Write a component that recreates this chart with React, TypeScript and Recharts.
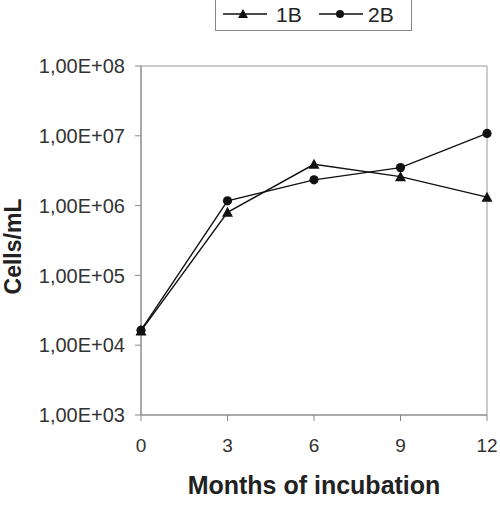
import React from 'react';
import { LineChart, Line, XAxis, YAxis, Legend, Label, ReferenceArea } from 'recharts';

// Months of incubation and cell counts (cells/mL) for both samples
const months = [0, 3, 6, 9, 12];
const series1B = [1.6e4, 8.0e5, 3.9e6, 2.6e6, 1.32e6];
const series2B = [1.64e4, 1.17e6, 2.34e6, 3.5e6, 1.08e7];
const yTicks = [1e3, 1e4, 1e5, 1e6, 1e7, 1e8];
const xTicks = [0, 3, 6, 9, 12];

const data = months.map((m, i) => ({ month: m, b1: series1B[i], b2: series2B[i] }));

const FONT = '"Liberation Sans", Arial, sans-serif';
const INK = '#111';

const formatSci = (v: number) => {
  const exp = Math.round(Math.log10(v));
  return `1,00E+${String(exp).padStart(2, '0')}`;
};

const Triangle = (props: any) => {
  const { cx, cy } = props;
  if (cx == null || cy == null) return null;
  return (
    <polygon
      points={`${cx - 5.5},${cy + 4.5} ${cx + 5.5},${cy + 4.5} ${cx},${cy - 5.5}`}
      fill={INK}
      stroke="none"
    />
  );
};

const Dot = (props: any) => {
  const { cx, cy } = props;
  if (cx == null || cy == null) return null;
  return <circle cx={cx} cy={cy} r={4.6} fill={INK} stroke="none" />;
};

const LegendBox = () => (
  <svg width={197} height={35} style={{ display: 'block' }}>
    <rect x={0.5} y={0.5} width={196} height={33} fill="#fff" stroke="#888" strokeWidth={1} />
    <line x1={8} y1={17} x2={52} y2={17} stroke={INK} strokeWidth={1.3} />
    <polygon points="23,21 33,21 28,12" fill={INK} />
    <text x={61} y={25} fontFamily={FONT} fontSize={21} fill="#222">1B</text>
    <line x1={104} y1={17} x2={148} y2={17} stroke={INK} strokeWidth={1.3} />
    <circle cx={125} cy={17} r={4} fill={INK} />
    <text x={153} y={25} fontFamily={FONT} fontSize={21} fill="#222">2B</text>
  </svg>
);

export default function App() {
  return (
    <div style={{ position: 'absolute', left: 0, top: 0 }}>
      <LineChart
        width={500}
        height={505}
        data={data}
        margin={{ top: 66, right: 13, bottom: 0, left: 0 }}
      >
        {/* plot frame */}
        <ReferenceArea
          x1={0}
          x2={12}
          y1={1e3}
          y2={1e8}
          fill="none"
          stroke="#999"
          strokeWidth={1}
          ifOverflow="visible"
        />
        <XAxis
          dataKey="month"
          type="number"
          domain={[0, 12]}
          ticks={xTicks}
          interval={0}
          stroke="#888"
          tickSize={6}
          tickMargin={18}
          height={90}
          tick={{ fill: '#333', fontSize: 19, fontFamily: FONT }}
        >
          <Label
            content={(p: any) => {
              const vb = p.viewBox;
              return (
                <text
                  x={vb.x + vb.width / 2}
                  y={vb.y + 70}
                  textAnchor="middle"
                  dominantBaseline="central"
                  fontFamily={FONT}
                  fontWeight="bold"
                  fontSize={25}
                  fill="#222"
                >
                  Months of incubation
                </text>
              );
            }}
          />
        </XAxis>
        <YAxis
          scale="log"
          type="number"
          domain={[1e3, 1e8]}
          ticks={yTicks}
          interval={0}
          allowDataOverflow
          tickFormatter={formatSci}
          width={141}
          stroke="#888"
          tickSize={6}
          tickMargin={10}
          tick={{ fill: '#333', fontSize: 20, fontFamily: FONT }}
        >
          <Label
            content={(p: any) => {
              const vb = p.viewBox;
              const x = 13;
              const y = vb.y + vb.height / 2 + 6;
              return (
                <text
                  x={x}
                  y={y}
                  transform={`rotate(-90, ${x}, ${y})`}
                  textAnchor="middle"
                  dominantBaseline="central"
                  fontFamily={FONT}
                  fontWeight="bold"
                  fontSize={23}
                  fill="#222"
                >
                  Cells/mL
                </text>
              );
            }}
          />
        </YAxis>
        <Legend
          layout="horizontal"
          verticalAlign="middle"
          align="center"
          wrapperStyle={{ left: 215, top: -3, width: 197, height: 35 }}
          content={() => <LegendBox />}
        />
        <Line
          dataKey="b1"
          name="1B"
          stroke={INK}
          strokeWidth={1.4}
          dot={<Triangle />}
          isAnimationActive={false}
        />
        <Line
          dataKey="b2"
          name="2B"
          stroke={INK}
          strokeWidth={1.4}
          dot={<Dot />}
          isAnimationActive={false}
        />
      </LineChart>
    </div>
  );
}
